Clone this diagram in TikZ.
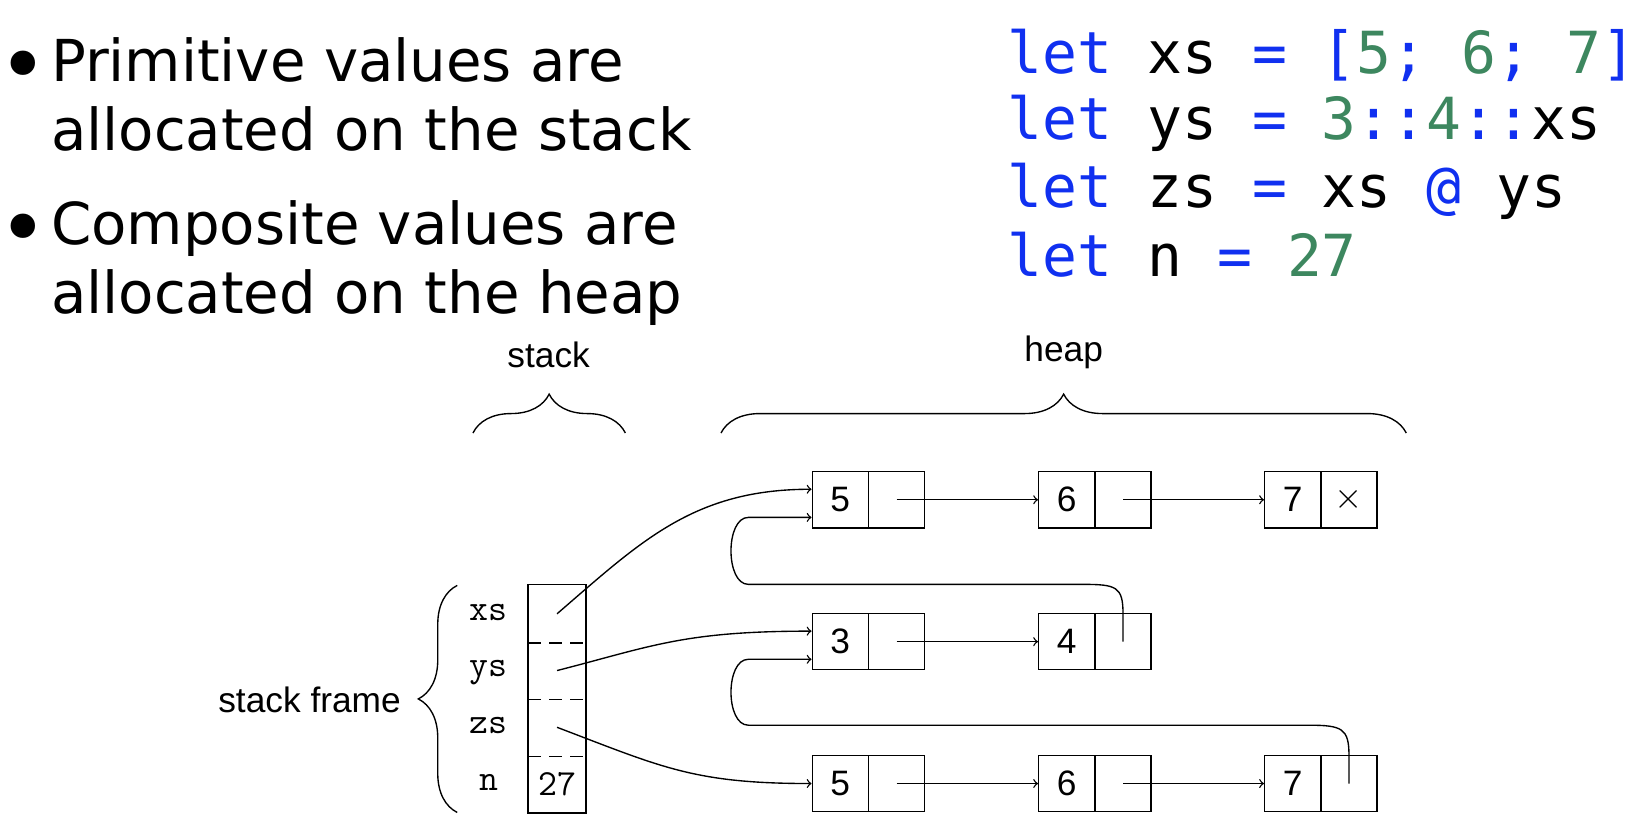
\documentclass[tikz,border=0pt]{standalone}
\usepackage{fontspec}
\setmainfont{Liberation Sans}
\newfontfamily\bulletfont{DejaVu Sans}
\newfontfamily\codefont{DejaVu Sans Mono}
\usetikzlibrary{decorations.pathreplacing}
\definecolor{kw}{RGB}{16,48,240}
\definecolor{num}{RGB}{61,135,95}
\newcommand{\kwc}[1]{\textcolor{kw}{#1}}
\newcommand{\nmc}[1]{\textcolor{num}{#1}}
\begin{document}
\begin{tikzpicture}[x=0.5pt,y=-0.5pt,line width=0.65pt,
  bul/.style={font=\bulletfont\fontsize{27.5}{32}\selectfont,anchor=base west,inner sep=0pt},
  dot/.style={font=\bulletfont\fontsize{40}{40}\selectfont,anchor=base,inner sep=0pt},
  code/.style={font=\codefont\fontsize{27.6}{32}\selectfont,anchor=base west,inner sep=0pt},
  lbl/.style={font=\fontsize{16.8}{20}\selectfont,inner sep=0pt},
  cell/.style={draw,minimum width=26.75pt,minimum height=26.75pt,inner sep=0pt,font=\fontsize{16.8}{20}\selectfont},
  scell/.style={minimum width=27pt,minimum height=27pt,inner sep=0pt,font=\ttfamily\fontsize{17.5}{20}\selectfont},
  var/.style={font=\ttfamily\fontsize{17.5}{20}\selectfont,anchor=base,inner sep=0pt},
  ptr/.style={->},
  brc/.style={decorate,decoration={brace,amplitude=18.5pt}}]
\useasboundingbox (0,0) rectangle (1568,790);
% bullets
\node[dot] (d1) at (22,90) {•};
\node[bul] (t1) at (48,78) {Primitive values are};
\node[bul] (t2) at (48,143) {allocated on the stack};
\node[dot] (d2) at (22,245) {•};
\node[bul] (t3) at (48,233) {Composite values are};
\node[bul] (t4) at (48,298) {allocated on the heap};
% code
\node[code] (c1l) at (958,70) {\kwc{let} xs \kwc{=} \kwc{[}\nmc{5}\kwc{;} \nmc{6}\kwc{;} \nmc{7}\kwc{]}};
\node[code] (c2l) at (958,133) {\kwc{let} ys \kwc{=} \nmc{3}\kwc{::}\nmc{4}\kwc{::}xs};
\node[code] (c3l) at (958,197) {\kwc{let} zs \kwc{=} xs \kwc{@} ys};
\node[code] (c4l) at (958,263) {\kwc{let} n \kwc{=} \nmc{27}};
% labels and braces
\node[lbl] (lstack) at (522,338) {stack};
\node[lbl] (lheap) at (1012,335) {heap};
\draw[brc] (450,412) -- (595,412);
\draw[brc] (686,412) -- (1338,412);
\node[lbl,anchor=east] (lframe) at (382,666) {stack frame};
\draw[brc] (435,773) -- (435,557);
% stack
\node[scell] (s1) at (530,584) {};
\node[scell] (s2) at (530,638) {};
\node[scell] (s3) at (530,692) {};
\node[scell] (s4) at (530,746) {27};
\draw (s1.north west) rectangle (s4.south east);
\draw[dash pattern=on 6pt off 4pt] (s1.south west) -- (s1.south east);
\draw[dash pattern=on 6pt off 4pt] (s2.south west) -- (s2.south east);
\draw[dash pattern=on 6pt off 4pt] (s3.south west) -- (s3.south east);
\node[var] (vxs) at (465,590) {xs};
\node[var] (vys) at (465,644) {ys};
\node[var] (vzs) at (465,698) {zs};
\node[var] (vn) at (465,752) {n};
% heap row 1
\node[cell] (a1) at (799.5,475.5) {5};
\node[cell] (a1p) at (853,475.5) {};
\node[cell] (a2) at (1015,475.5) {6};
\node[cell] (a2p) at (1068.5,475.5) {};
\node[cell] (a3) at (1230,475.5) {7};
\node[cell] (a3p) at (1283.5,475.5) {$\times$};
% heap row 2
\node[cell] (b1) at (799.5,610.5) {3};
\node[cell] (b1p) at (853,610.5) {};
\node[cell] (b2) at (1015,610.5) {4};
\node[cell] (b2p) at (1068.5,610.5) {};
% heap row 3
\node[cell] (c1) at (799.5,745.5) {5};
\node[cell] (c1p) at (853,745.5) {};
\node[cell] (c2) at (1015,745.5) {6};
\node[cell] (c2p) at (1068.5,745.5) {};
\node[cell] (c3) at (1230,745.5) {7};
\node[cell] (c3p) at (1283.5,745.5) {};
% pointers
\draw[ptr] (a1p.center) -- (a2.west);
\draw[ptr] (a2p.center) -- (a3.west);
\draw[ptr] (b1p.center) -- (b2.west);
\draw[ptr] (c1p.center) -- (c2.west);
\draw[ptr] (c2p.center) -- (c3.west);
\draw[ptr] (s1.center) .. controls (610,515) and (660,465.5) .. ([yshift=5pt]a1.west);
\draw[ptr] (s2.center) .. controls (620,615) and (650,600.5) .. ([yshift=5pt]b1.west);
\draw[ptr] (s3.center) .. controls (630,730) and (660,745.5) .. (c1.west);
\draw[ptr] (b2p.center) -- (1068.5,584) .. controls (1068.5,558) and (1062,556) .. (1030,556) -- (712,556) .. controls (690,556) and (690,492.3) .. (712,492.3) -- ([yshift=-8.4pt]a1.west);
\draw[ptr] (c3p.center) -- (1283.5,719) .. controls (1283.5,693) and (1277,690) .. (1245,690) -- (712,690) .. controls (690,690) and (690,627.3) .. (712,627.3) -- ([yshift=-8.4pt]b1.west);
\end{tikzpicture}
\end{document}
